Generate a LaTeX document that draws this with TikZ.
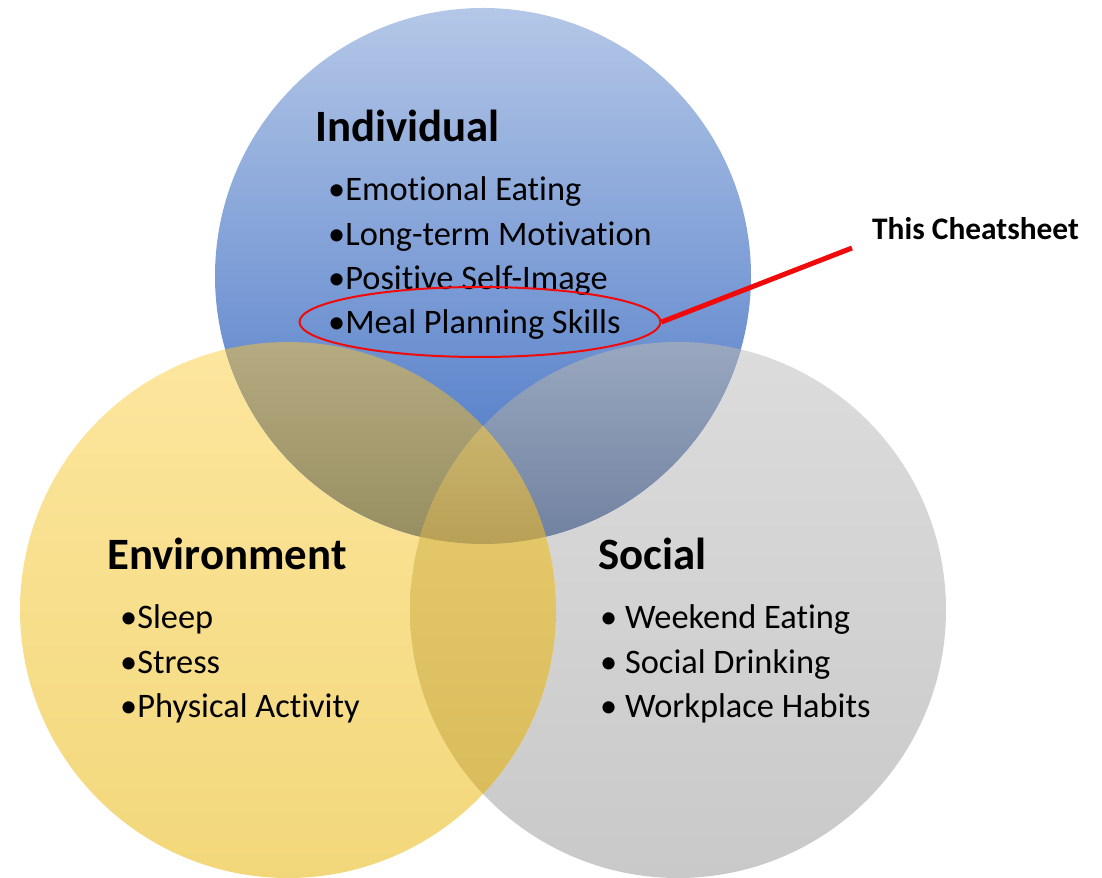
\documentclass[tikz,border=0pt]{standalone}
\usepackage{fontspec}
\setmainfont{Carlito}[Ligatures=NoCommon]
\usetikzlibrary{shapes.geometric}

% fills of the three circles and of their overlaps
\definecolor{blueTop}{RGB}{180,199,231}
\definecolor{blueBot}{RGB}{68,114,196}
\definecolor{goldTop}{RGB}{253,230,158}
\definecolor{goldMid}{RGB}{255,224,132}
\definecolor{goldBot}{RGB}{242,215,122}
\definecolor{greyTop}{RGB}{220,220,220}
\definecolor{greyBot}{RGB}{201,201,201}
\definecolor{blueGoldTop}{RGB}{181,170,128}
\definecolor{blueGoldBot}{RGB}{150,142,96}
\definecolor{blueGreyTop}{RGB}{153,168,191}
\definecolor{blueGreyBot}{RGB}{112,129,160}
\definecolor{goldGreyTop}{RGB}{230,203,110}
\definecolor{goldGreyBot}{RGB}{218,188,92}
\definecolor{allTop}{RGB}{202,179,108}
\definecolor{allBot}{RGB}{184,161,86}
\definecolor{ringRed}{RGB}{240,10,10}

\begin{document}
\begin{tikzpicture}[x=1bp,y=1bp,
  heading/.style={anchor=base west, inner sep=0pt, text=black,
    font=\fontsize{45}{50}\selectfont\bfseries},
  entry/.style={anchor=base west, inner sep=0pt, text=black,
    font=\fontsize{34.5}{40}\selectfont},
  callout/.style={anchor=base west, inner sep=0pt, text=black,
    font=\fontsize{31.5}{36}\selectfont\bfseries},
]
\useasboundingbox (0,0) rectangle (1102,878);

% base circles
\shade[top color=greyTop, bottom color=greyBot] (678,268) circle (268);
\shade[top color=goldTop, middle color=goldMid, bottom color=goldBot] (288,268) circle (268);
\shade[top color=blueTop, bottom color=blueBot] (483,602) circle (268);

% Individual & Environment overlap
\begin{scope}
  \clip (483,602) circle (268);
  \clip (288,268) circle (268);
  \shade[top color=blueGoldTop, bottom color=blueGoldBot] (200,536) rectangle (570,334);
\end{scope}

% Individual & Social overlap
\begin{scope}
  \clip (483,602) circle (268);
  \clip (678,268) circle (268);
  \shade[top color=blueGreyTop, bottom color=blueGreyBot] (400,536) rectangle (760,334);
\end{scope}

% Environment & Social overlap
\begin{scope}
  \clip (288,268) circle (268);
  \clip (678,268) circle (268);
  \shade[top color=goldGreyTop, bottom color=goldGreyBot] (400,452) rectangle (570,84);
\end{scope}

% centre, shared by all three
\begin{scope}
  \clip (483,602) circle (268);
  \clip (288,268) circle (268);
  \clip (678,268) circle (268);
  \shade[top color=allTop, bottom color=allBot] (400,452) rectangle (570,334);
\end{scope}

% Individual
\node[heading] (indHead) at (315,736) {Individual};
\node[entry] (ind1) at (328,677) {•Emotional Eating};
\node[entry] (ind2) at (328,632) {•Long-term Motivation};
\node[entry] (ind3) at (328,588) {•Positive Self-Image};
\node[entry] (ind4) at (328,544) {•Meal Planning Skills};

% Environment
\node[heading] (envHead) at (107,308) {Environment};
\node[entry] (env1) at (120,249) {•Sleep};
\node[entry] (env2) at (120,204) {•Stress};
\node[entry] (env3) at (120,160) {•Physical Activity};

% Social
\node[heading] (socHead) at (598,308) {Social};
\node[entry] (soc1) at (600,249) {• Weekend Eating};
\node[entry] (soc2) at (600,204) {• Social Drinking};
\node[entry] (soc3) at (600,160) {• Workplace Habits};

% highlight ring and its pointer
\node[ellipse, draw=ringRed, line width=2bp, minimum width=361bp,
      minimum height=70bp, inner sep=0pt] (ring) at (480,556) {};
\node[callout] (tag) at (872,638) {This Cheatsheet};
\coordinate (tip) at (852,630);
\draw[ringRed, line width=5bp] (ring.east) -- (tip);
\end{tikzpicture}
\end{document}
